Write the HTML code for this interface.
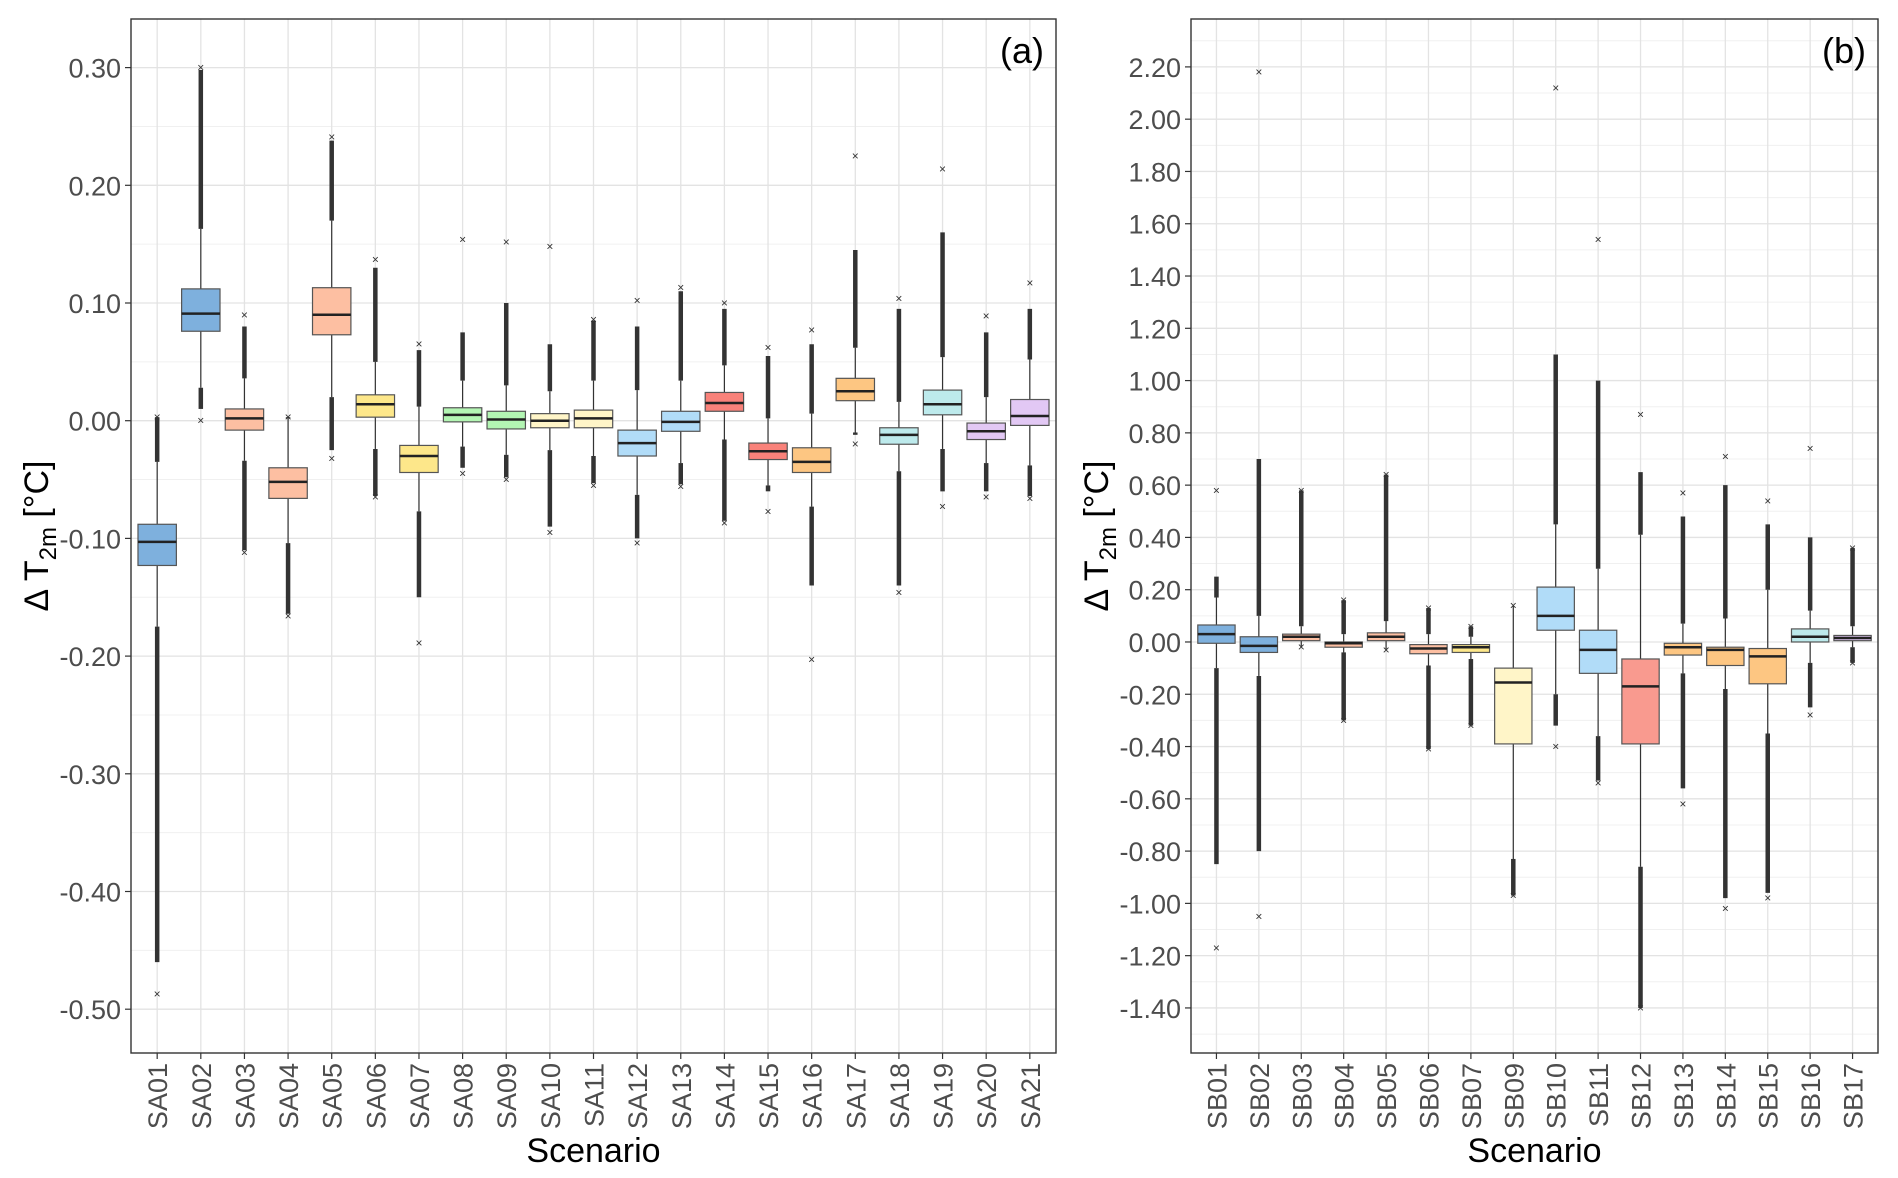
<!DOCTYPE html>
<html><head><meta charset="utf-8">
<style>
html,body{margin:0;padding:0;background:#fff;}
svg{display:block;font-family:"Liberation Sans",sans-serif;}
</style></head>
<body>
<svg id="chart" width="1898" height="1178" viewBox="0 0 1898 1178" xmlns="http://www.w3.org/2000/svg"></svg>
<script>
// ---- Panel A data ----
const catsA = ["SA01","SA02","SA03","SA04","SA05","SA06","SA07","SA08","SA09","SA10","SA11","SA12","SA13","SA14","SA15","SA16","SA17","SA18","SA19","SA20","SA21"];
const q1A  = [-0.123,0.076,-0.008,-0.066,0.073,0.003,-0.044,-0.001,-0.007,-0.006,-0.006,-0.030,-0.009,0.008,-0.033,-0.044,0.017,-0.020,0.005,-0.016,-0.004];
const medA = [-0.103,0.091,0.002,-0.052,0.090,0.014,-0.030,0.005,0.001,0.000,0.002,-0.019,-0.001,0.015,-0.026,-0.035,0.025,-0.012,0.014,-0.009,0.004];
const q3A  = [-0.088,0.112,0.010,-0.040,0.113,0.022,-0.021,0.011,0.008,0.006,0.009,-0.008,0.008,0.024,-0.019,-0.023,0.036,-0.006,0.026,-0.002,0.018];
const wloA = [-0.175,0.028,-0.034,-0.104,0.020,-0.024,-0.077,-0.022,-0.029,-0.025,-0.030,-0.063,-0.036,-0.016,-0.055,-0.073,-0.010,-0.043,-0.024,-0.036,-0.038];
const whiA = [-0.035,0.163,0.036,0.002,0.170,0.050,0.012,0.034,0.030,0.025,0.034,0.026,0.034,0.047,0.002,0.006,0.062,0.016,0.054,0.020,0.052];
const dloA = [-0.460,0.010,-0.110,-0.164,-0.025,-0.064,-0.150,-0.040,-0.048,-0.090,-0.053,-0.100,-0.054,-0.085,-0.060,-0.140,-0.012,-0.140,-0.060,-0.060,-0.064];
const dhiA = [0.003,0.298,0.080,0.003,0.238,0.130,0.060,0.075,0.100,0.065,0.085,0.080,0.110,0.095,0.055,0.065,0.145,0.095,0.160,0.075,0.095];
const oloA = [-0.487,0.000,-0.112,-0.166,-0.032,-0.065,-0.189,-0.045,-0.050,-0.095,-0.055,-0.104,-0.056,-0.087,-0.077,-0.203,-0.020,-0.146,-0.073,-0.065,-0.066];
const ohiA = [0.003,0.300,0.090,0.003,0.241,0.137,0.065,0.154,0.152,0.148,0.086,0.102,0.113,0.100,0.062,0.077,0.225,0.104,0.214,0.089,0.117];
const colA = ["#7eb0dd","#7eb0dd","#fdbfa2","#fdbfa2","#fdbfa2","#fde78a","#fde78a","#b3f5b3","#b3f5b3","#fff5c8","#fff5c8","#b1dcf8","#b1dcf8","#f9827a","#f9827a","#fdc682","#fdc682","#bdeaec","#bdeaec","#e2c8f4","#e2c8f4"];
const ticksA = [0.30,0.20,0.10,0.00,-0.10,-0.20,-0.30,-0.40,-0.50];
// ---- Panel B data ----
const catsB = ["SB01","SB02","SB03","SB04","SB05","SB06","SB07","SB09","SB10","SB11","SB12","SB13","SB14","SB15","SB16","SB17"];
const q1B  = [-0.005,-0.04,0.005,-0.02,0.005,-0.045,-0.04,-0.39,0.045,-0.12,-0.39,-0.05,-0.09,-0.16,0.0,0.005];
const medB = [0.03,-0.015,0.02,-0.005,0.02,-0.025,-0.02,-0.155,0.10,-0.03,-0.17,-0.02,-0.03,-0.055,0.02,0.015];
const q3B  = [0.065,0.02,0.03,0.0,0.035,-0.01,-0.01,-0.10,0.21,0.045,-0.065,-0.005,-0.02,-0.025,0.05,0.025];
const wloB = [-0.10,-0.13,-0.02,-0.04,-0.03,-0.09,-0.065,-0.83,-0.20,-0.36,-0.86,-0.12,-0.18,-0.35,-0.08,-0.02];
const whiB = [0.17,0.10,0.06,0.03,0.08,0.03,0.02,0.14,0.45,0.28,0.41,0.07,0.09,0.20,0.12,0.06];
const dloB = [-0.85,-0.80,-0.02,-0.30,-0.03,-0.41,-0.32,-0.97,-0.32,-0.53,-1.40,-0.56,-0.98,-0.96,-0.25,-0.08];
const dhiB = [0.25,0.70,0.58,0.16,0.64,0.13,0.06,0.14,1.10,1.00,0.65,0.48,0.60,0.45,0.40,0.36];
const oloB = [-1.17,-1.05,-0.02,-0.30,-0.03,-0.41,-0.32,-0.97,-0.40,-0.54,-1.40,-0.62,-1.02,-0.98,-0.28,-0.08];
const ohiB = [0.58,2.18,0.58,0.16,0.64,0.13,0.06,0.14,2.12,1.54,0.87,0.57,0.71,0.54,0.74,0.36];
const colB = ["#7eb0dd","#7eb0dd","#fdbfa2","#fdbfa2","#fdbfa2","#fdbfa2","#fde78a","#fff5c8","#b1dcf8","#b1dcf8","#f99a8f","#fdc682","#fdc682","#fdc682","#bdeaec","#e2c8f4"];
const ticksB = [2.2,2.0,1.8,1.6,1.4,1.2,1.0,0.8,0.6,0.4,0.2,0.0,-0.2,-0.4,-0.6,-0.8,-1.0,-1.2,-1.4];

const NS="http://www.w3.org/2000/svg";
const svg=document.getElementById("chart");
function mk(tag,attrs,parent){const e=document.createElementNS(NS,tag);for(const k in attrs)e.setAttribute(k,attrs[k]);(parent||svg).appendChild(e);return e;}
function fmt(v){return (v<0?"-":"")+Math.abs(v).toFixed(2);}

function panel(cfg){
  const g=mk("g",{});
  
  
  const L=cfg.L,R=cfg.R,T=cfg.T,B=cfg.B;
  const y=v=>cfg.y0+(cfg.yref-v)*cfg.ppu;
  const n=cfg.cats.length;
  const step=(R-L)/(n-1+1.2);
  const x=i=>L+step*(0.6+i);
  for(let v=cfg.ymin;v<=cfg.ymax+1e-9;v+=cfg.minor){
    const yy=y(v); if(yy<T||yy>B) continue;
    const ln=mk("line",{x1:L,x2:R,y1:yy,y2:yy,stroke:"#f0f0f0","stroke-width":1},g);
    
    
  }
  cfg.ticks.forEach(v=>{
    const yy=y(v);
    const ln=mk("line",{x1:L,x2:R,y1:yy,y2:yy,stroke:"#e3e3e3","stroke-width":1.3},g);
    
    
    const tk=mk("line",{x1:L-6,x2:L,y1:yy,y2:yy,stroke:"#333","stroke-width":1.2},g);
    
    
    const t=mk("text",{x:L-10,y:yy+10,"text-anchor":"end","font-size":27,fill:"#4d4d4d"},g);
    t.textContent=fmt(v);
    
    
  });
  cfg.cats.forEach((c,i)=>{
    const xx=x(i);
    const ln=mk("line",{x1:xx,x2:xx,y1:T,y2:B,stroke:"#e3e3e3","stroke-width":1.3},g);
    
    
  });
  const bw=step*0.88;
  cfg.cats.forEach((c,i)=>{
    const xx=x(i);
    const bg=mk("g",{},g);
    
    
    mk("line",{x1:xx,x2:xx,y1:y(cfg.wlo[i]),y2:y(cfg.dlo[i]),stroke:"#333","stroke-width":4.5},bg);
    mk("line",{x1:xx,x2:xx,y1:y(cfg.whi[i]),y2:y(cfg.dhi[i]),stroke:"#333","stroke-width":4.5},bg);
    mk("line",{x1:xx,x2:xx,y1:y(cfg.wlo[i]),y2:y(cfg.whi[i]),stroke:"#333","stroke-width":1.2},bg);
    [cfg.olo[i],cfg.ohi[i]].forEach(v=>{
      const m=mk("text",{x:xx,y:y(v)+4,"text-anchor":"middle","font-size":12,fill:"#333"},bg);
      m.textContent="×";
    });
    const top=y(cfg.q3[i]),bot=y(cfg.q1[i]);
    mk("rect",{x:xx-bw/2,y:top,width:bw,height:Math.max(bot-top,2),fill:cfg.col[i],stroke:"#555","stroke-width":1.2},bg);
    mk("line",{x1:xx-bw/2,x2:xx+bw/2,y1:y(cfg.med[i]),y2:y(cfg.med[i]),stroke:"#222","stroke-width":2.5},bg);
    const tk=mk("line",{x1:xx,x2:xx,y1:B,y2:B+6,stroke:"#333","stroke-width":1.2},g);
    
    
    const t=mk("text",{x:0,y:0,"text-anchor":"end","font-size":27,fill:"#4d4d4d",transform:`translate(${xx+10},${B+10}) rotate(-90)`},g);
    t.textContent=c;
    
    
  });
  const fr=mk("rect",{x:L,y:T,width:R-L,height:B-T,fill:"none",stroke:"#333","stroke-width":1.4},g);
  
  
  const pl=mk("text",{x:R-12,y:T+44,"text-anchor":"end","font-size":36,fill:"#000"},g);
  pl.textContent=cfg.label;
  
  
  const xt=mk("text",{x:(L+R)/2,y:1162,"text-anchor":"middle","font-size":34,fill:"#000"},g);
  xt.textContent="Scenario";
  
  
  const yt=mk("text",{x:0,y:0,"text-anchor":"middle","font-size":34,fill:"#000",transform:`translate(${cfg.ytx},${(T+B)/2}) rotate(-90)`},g);
  yt.innerHTML='Δ T<tspan font-size="24" dy="8">2m</tspan><tspan dy="-8"> [°C]</tspan>';
  
  
}
panel({name:"panel-a",L:131,R:1056,T:19,B:1053,y0:67.6,yref:0.30,ppu:1177,ymin:-0.55,ymax:0.35,minor:0.05,
  ticks:ticksA,cats:catsA,q1:q1A,med:medA,q3:q3A,wlo:wloA,whi:whiA,dlo:dloA,dhi:dhiA,olo:oloA,ohi:ohiA,col:colA,label:"(a)",ytx:48});
panel({name:"panel-b",L:1191,R:1878,T:19,B:1053,y0:66.9,yref:2.2,ppu:261.4,ymin:-1.6,ymax:2.4,minor:0.1,
  ticks:ticksB,cats:catsB,q1:q1B,med:medB,q3:q3B,wlo:wloB,whi:whiB,dlo:dloB,dhi:dhiB,olo:oloB,ohi:ohiB,col:colB,label:"(b)",ytx:1108});
</script>
</body></html>
